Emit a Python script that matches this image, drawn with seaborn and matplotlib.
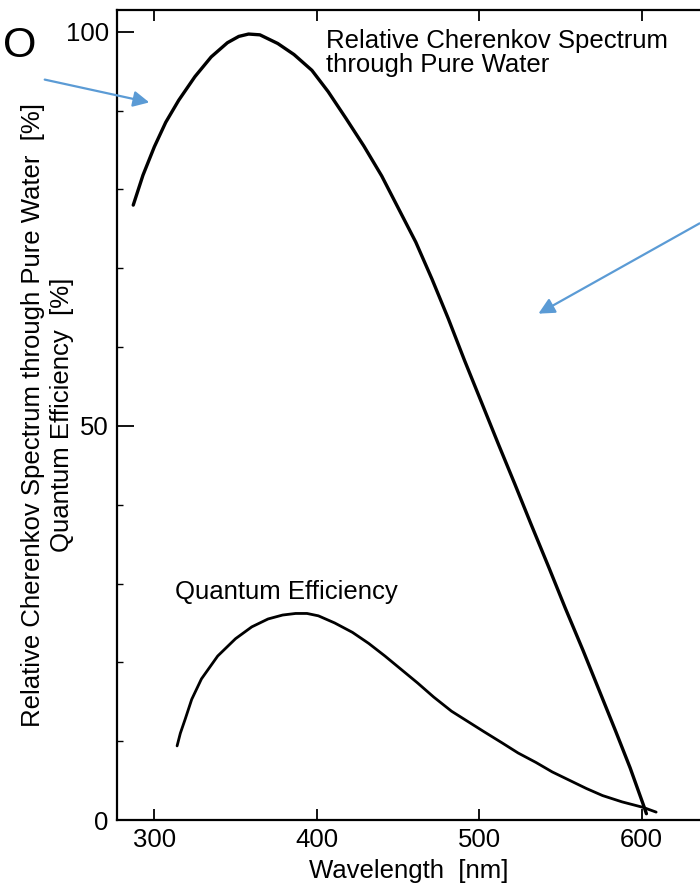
import pandas as pd
import matplotlib
matplotlib.use("Agg")
import matplotlib.pyplot as plt
import seaborn as sns

sns.set_style("ticks")
plt.rcParams['font.family'] = ['Liberation Sans', 'DejaVu Sans']
plt.rcParams['text.color'] = 'black'
plt.rcParams['axes.labelcolor'] = 'black'
plt.rcParams['xtick.color'] = 'black'
plt.rcParams['ytick.color'] = 'black'

# values
cherenkov_nm = [287, 293, 300, 307, 315, 325, 335, 345, 352, 358, 365, 376, 386, 397, 407,
                418, 429, 440, 450, 461, 471, 481, 491, 502, 512, 522, 532, 543, 553,
                564, 574, 584, 593, 601, 603]
cherenkov_pct = [78.0, 81.8, 85.4, 88.5, 91.3, 94.3, 96.8, 98.6, 99.4, 99.7, 99.6, 98.5, 97.1,
                 95.1, 92.4, 89.0, 85.5, 81.7, 77.7, 73.3, 68.6, 63.6, 58.3, 52.7, 47.6,
                 42.6, 37.5, 32.0, 26.9, 21.5, 16.4, 11.3, 6.6, 2.0, 0.8]

qe_nm = [314, 316, 319, 323, 329, 339, 350, 360, 370, 379, 387, 394, 401, 411, 422, 432,
         442, 452, 462, 472, 483, 493, 503, 514, 524, 535, 545, 556, 566, 576, 588, 601, 609]
qe_pct = [9.4, 11.0, 12.8, 15.3, 17.9, 20.8, 23.0, 24.5, 25.5, 26.0, 26.2, 26.2, 25.9, 25.0,
          23.8, 22.4, 20.8, 19.1, 17.4, 15.6, 13.8, 12.5, 11.2, 9.8, 8.5, 7.3, 6.1, 5.0,
          4.0, 3.1, 2.3, 1.6, 1.0]

x_ticks = [300, 400, 500, 600]
y_ticks = [0, 50, 100]

cher = pd.DataFrame({"nm": cherenkov_nm, "pct": cherenkov_pct})
qe = pd.DataFrame({"nm": qe_nm, "pct": qe_pct})

fig = plt.figure(figsize=(7, 8.86), dpi=100)
ax = fig.add_axes([117 / 700, 1 - 820 / 886, 1 - 117 / 700, (820 - 10) / 886])

sns.lineplot(data=cher, x="nm", y="pct", ax=ax, color="black", lw=2.4, sort=False)
sns.lineplot(data=qe, x="nm", y="pct", ax=ax, color="black", lw=2.0, sort=False)

ax.set_xlim(277, 636)
ax.set_ylim(0, 102.75)
ax.set_xticks(x_ticks)
ax.set_yticks(y_ticks)
ax.set_yticks(range(0, 101, 10), minor=True)
fs = 18.5
ax.tick_params(axis="both", which="major", direction="in", length=8, width=1.3,
               labelsize=fs, pad=6, top=True, right=False)
ax.tick_params(axis="y", which="major", length=12)
ax.tick_params(axis="y", which="minor", direction="in", length=4, width=1.0, right=False)
ax.spines["right"].set_visible(False)
for s in ["left", "bottom", "top"]:
    ax.spines[s].set_linewidth(1.6)
    ax.spines[s].set_color("black")

ax.set_xlabel("Wavelength  [nm]", fontsize=fs, labelpad=5)
ax.set_ylabel("Relative Cherenkov Spectrum through Pure Water  [%]\nQuantum Efficiency  [%]",
              fontsize=fs, linespacing=1.25)
ax.yaxis.set_label_coords(-0.074, 0.5)

ax.text(406, 100.3, "Relative Cherenkov Spectrum\nthrough Pure Water",
        fontsize=fs, ha="left", va="top", linespacing=1.0)
ax.text(312.5, 28.9, "Quantum Efficiency", fontsize=fs, ha="left", va="center")

# slide overlay: stray letter and blue arrows
fig.text(20 / 700, 1 - 46 / 886, "O", fontsize=31, ha="center", va="center")
blue = "#5B9BD5"
ax.annotate("", xy=(152 / 700, 1 - 103 / 886), xytext=(42 / 700, 1 - 79 / 886),
            xycoords="figure fraction", textcoords="figure fraction",
            arrowprops=dict(arrowstyle="-|>", color=blue, lw=1.6, mutation_scale=24),
            annotation_clip=False)
ax.annotate("", xy=(536 / 700, 1 - 315 / 886), xytext=(702 / 700, 1 - 222 / 886),
            xycoords="figure fraction", textcoords="figure fraction",
            arrowprops=dict(arrowstyle="-|>", color=blue, lw=1.6, mutation_scale=24),
            annotation_clip=False)

fig.savefig("out.png", dpi=100)
